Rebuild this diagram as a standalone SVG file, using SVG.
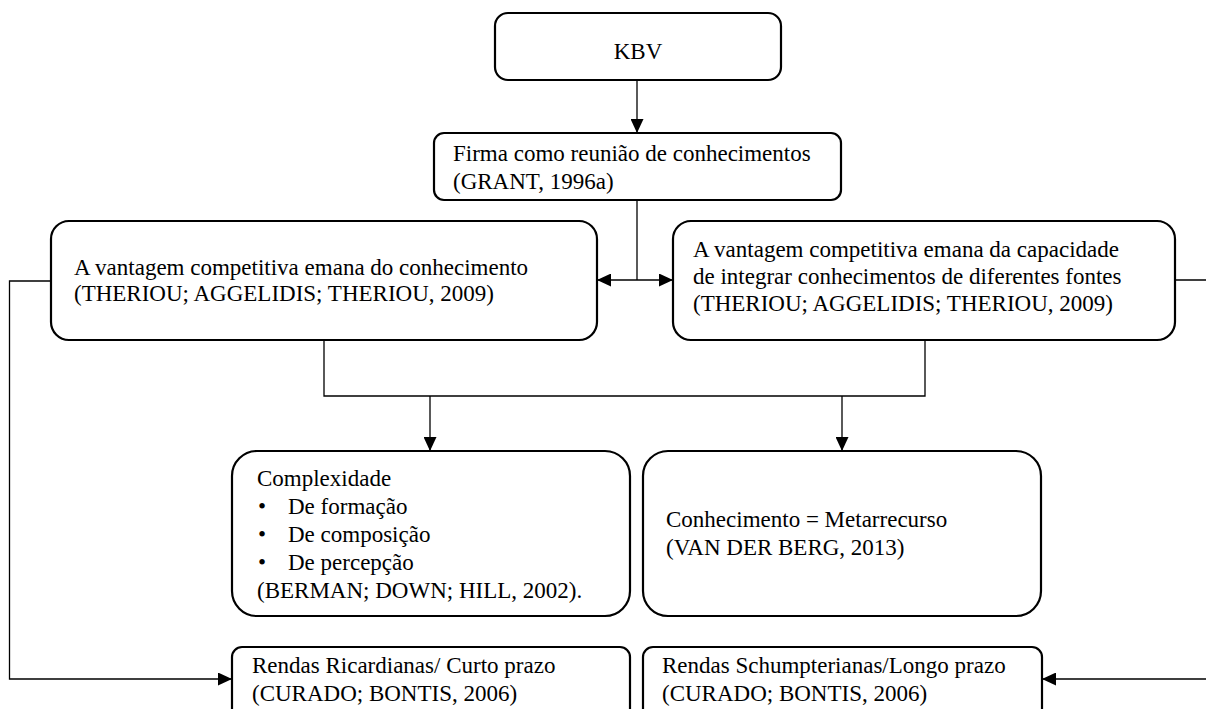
<svg xmlns="http://www.w3.org/2000/svg" width="1206" height="709" viewBox="0 0 1206 709">
  <style>
    .box { fill: #ffffff; stroke: #000000; stroke-width: 2.2; }
    .lbl { font-family: "Liberation Serif", "DejaVu Serif", "Times New Roman", serif; font-size: 23px; fill: #000000; }
    .mid { text-anchor: middle; }
    .wire { fill: none; stroke: #000000; stroke-width: 1.3; }
  </style>
  <defs>
    <marker id="arrow" markerUnits="userSpaceOnUse" markerWidth="15" markerHeight="13" refX="14" refY="6.5" orient="auto">
      <path d="M0,0 L14,6.5 L0,13 z" fill="#000000"/>
    </marker>
  </defs>

  <rect width="1206" height="709" fill="#ffffff"/>

  <!-- connectors -->
  <g id="connectors">
    <line class="wire" x1="637" y1="80" x2="637" y2="133" marker-end="url(#arrow)"/>
    <line class="wire" x1="637" y1="200" x2="637" y2="280"/>
    <line class="wire" x1="637" y1="280" x2="597" y2="280" marker-end="url(#arrow)"/>
    <line class="wire" x1="637" y1="280" x2="673" y2="280" marker-end="url(#arrow)"/>
    <polyline class="wire" points="324,340 324,396 925,396 925,340"/>
    <line class="wire" x1="430" y1="396" x2="430" y2="451" marker-end="url(#arrow)"/>
    <line class="wire" x1="842" y1="396" x2="842" y2="451" marker-end="url(#arrow)"/>
    <polyline class="wire" points="51,281 9.5,281 9.5,679 232,679" marker-end="url(#arrow)"/>
    <polyline class="wire" points="1175,280 1215,280 1215,679 1042,679" marker-end="url(#arrow)"/>
  </g>

  <g id="kbv">
    <rect class="box" x="495" y="13" width="286" height="67" rx="13"/>
    <text class="lbl mid" x="638" y="59">KBV</text>
  </g>

  <g id="firma">
    <rect class="box" x="434" y="133" width="407" height="67" rx="10"/>
    <text class="lbl" x="453" y="161">Firma como reunião de conhecimentos</text>
    <text class="lbl" x="453" y="189">(GRANT, 1996a)</text>
  </g>

  <g id="vantagem-conhecimento">
    <rect class="box" x="51" y="221" width="546" height="119" rx="18"/>
    <text class="lbl" x="74" y="275">A vantagem competitiva emana do conhecimento</text>
    <text class="lbl" x="74" y="301">(THERIOU; AGGELIDIS; THERIOU, 2009)</text>
  </g>

  <g id="vantagem-integracao">
    <rect class="box" x="673" y="221" width="502" height="119" rx="18"/>
    <text class="lbl" x="693" y="257">A vantagem competitiva emana da capacidade</text>
    <text class="lbl" x="693" y="284">de integrar conhecimentos de diferentes fontes</text>
    <text class="lbl" x="693" y="311">(THERIOU; AGGELIDIS; THERIOU, 2009)</text>
  </g>

  <g id="complexidade">
    <rect class="box" x="232" y="451" width="398" height="165" rx="25"/>
    <text class="lbl" x="257" y="486">Complexidade</text>
    <text class="lbl" x="258" y="514">•</text>
    <text class="lbl" x="288" y="514">De formação</text>
    <text class="lbl" x="258" y="542">•</text>
    <text class="lbl" x="288" y="542">De composição</text>
    <text class="lbl" x="258" y="570">•</text>
    <text class="lbl" x="288" y="570">De percepção</text>
    <text class="lbl" x="257" y="598">(BERMAN; DOWN; HILL, 2002).</text>
  </g>

  <g id="metarrecurso">
    <rect class="box" x="643" y="451" width="398" height="165" rx="25"/>
    <text class="lbl" x="666" y="527">Conhecimento = Metarrecurso</text>
    <text class="lbl" x="666" y="555">(VAN DER BERG, 2013)</text>
  </g>

  <g id="rendas-ricardianas">
    <rect class="box" x="232" y="647" width="398" height="80" rx="10"/>
    <text class="lbl" x="252" y="673">Rendas Ricardianas/ Curto prazo</text>
    <text class="lbl" x="252" y="701">(CURADO; BONTIS, 2006)</text>
  </g>

  <g id="rendas-schumpterianas">
    <rect class="box" x="643" y="647" width="399" height="80" rx="10"/>
    <text class="lbl" x="662" y="673">Rendas Schumpterianas/Longo prazo</text>
    <text class="lbl" x="662" y="701">(CURADO; BONTIS, 2006)</text>
  </g>
</svg>
